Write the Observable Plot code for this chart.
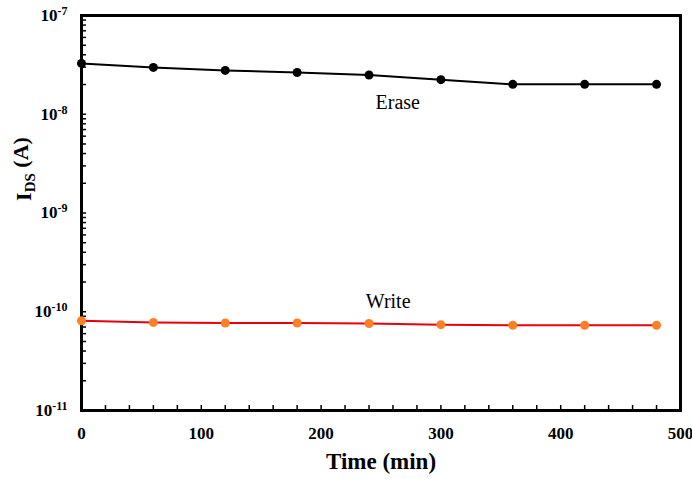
<!DOCTYPE html>
<html><head><meta charset="utf-8">
<script src="https://cdn.jsdelivr.net/npm/d3@7"></script>
<script src="https://cdn.jsdelivr.net/npm/@observablehq/plot@0.6"></script>
<style>body{margin:0;background:#fff}</style>
</head><body><div id="chart"></div>
<script>
// ---- data ----
const time = [0, 60, 120, 180, 240, 300, 360, 420, 480];
const eraseCurrent = [3.27e-8, 2.98e-8, 2.78e-8, 2.65e-8, 2.5e-8, 2.24e-8, 2.01e-8, 2.01e-8, 2.01e-8];
const writeCurrent = [8.1e-11, 7.8e-11, 7.7e-11, 7.7e-11, 7.6e-11, 7.4e-11, 7.3e-11, 7.3e-11, 7.3e-11];
const xTicks = [0, 100, 200, 300, 400, 500];
const yTicks = [1e-11, 1e-10, 1e-9, 1e-8, 1e-7];
const seriesLabels = ["Erase", "Write"];
const labelTime = [264, 256];
const labelCurrent = [1.32e-8, 1.26e-10];

// ---- layout ----
const W = 692, H = 479, mL = 81, mR = 12, mT = 15, mB = 69;
const plotH = H - mT - mB, plotW = W - mL - mR;
const xMinor = d3.range(0, 501, 20);
const yMinor = [];
for (let e = -11; e < -7; e++) for (let k = 1; k <= 9; k++) yMinor.push(k * Math.pow(10, e));
yMinor.push(1e-7);

const erase = time.map((t, i) => ({t, v: eraseCurrent[i]}));
const write = time.map((t, i) => ({t, v: writeCurrent[i]}));
const labels = seriesLabels.map((s, i) => ({s, t: labelTime[i], v: labelCurrent[i]}));

const chart = Plot.plot({
  width: W, height: H,
  marginLeft: mL, marginRight: mR, marginTop: mT, marginBottom: mB,
  style: {fontFamily: "'Liberation Serif', 'DejaVu Serif', serif", background: "white", color: "black"},
  x: {domain: [0, 500]},
  y: {type: "log", domain: [1e-11, 1e-7]},
  marks: [
    Plot.tickX(xMinor, {x: d => d, insetTop: plotH - 5, stroke: "black", strokeWidth: 1.5}),
    Plot.tickY(yMinor, {y: d => d, insetRight: plotW - 5, stroke: "black", strokeWidth: 1.5}),
    Plot.axisX(xTicks, {tickSize: 0, tickPadding: 16, fontSize: 17, fontWeight: "bold", label: null}),
    Plot.axisY(yTicks, {tickSize: 0, tickPadding: 14, fontSize: 17, fontWeight: "bold", label: null,
      tickFormat: d => "10^" + Math.round(Math.log10(d))}),
    Plot.frame({stroke: "black", strokeWidth: 3}),
    Plot.line(erase, {x: "t", y: "v", stroke: "black", strokeWidth: 2}),
    Plot.dot(erase, {x: "t", y: "v", r: 4.5, fill: "black"}),
    Plot.line(write, {x: "t", y: "v", stroke: "#e8000b", strokeWidth: 2}),
    Plot.dot(write, {x: "t", y: "v", r: 4.5, fill: "#ff7f27"}),
    Plot.text(labels, {x: "t", y: "v", text: "s", fontSize: 20}),
    Plot.text(["Time (min)"], {frameAnchor: "bottom", dy: 58, text: d => d, fontSize: 23, fontWeight: "bold"}),
    Plot.text(["I_DS (A)"], {frameAnchor: "left", textAnchor: "middle", dx: -58, dy: -44, rotate: -90, text: d => d,
      fontSize: 22, fontWeight: "bold", className: "ytitle"})
  ]
});

const svg = d3.select(chart);
svg.selectAll('g[aria-label="y-axis tick label"] text').each(function () {
  const [b, e] = this.textContent.split("^");
  const s = d3.select(this);
  s.text(b);
  s.append("tspan").attr("dy", "-0.5em").attr("font-size", "12").text(e);
});
svg.selectAll('.ytitle text').each(function () {
  const s = d3.select(this);
  s.text("I");
  s.append("tspan").attr("dy", "0.3em").attr("font-size", "15").text("DS");
  s.append("tspan").attr("dy", "-0.3em").text(" (A)");
});
document.getElementById("chart").appendChild(chart);
</script>
</body></html>
